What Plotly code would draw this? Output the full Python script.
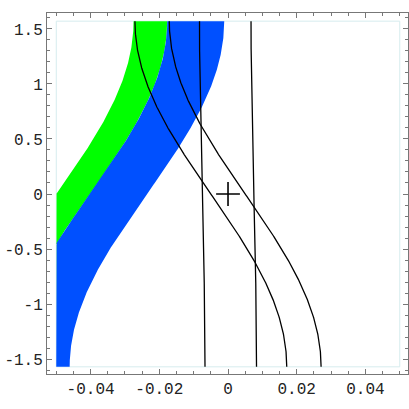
import numpy as np
import plotly.graph_objects as go

# plot region of the original function plot
x_lim = [-0.05, 0.05]
y_lim = [-np.pi / 2, np.pi / 2]

# shaded bands: x = c + amp*sin(y), for c between the two offsets
green_offsets = [-0.05, -0.0402]
blue_offsets = [-0.0402, -0.0236]
band_amp = 0.0225

# black curves: x = c - amp*sin(y)
s_curve_offsets = [-0.005, 0.005]
s_curve_amp = 0.0221
near_vertical_offsets = [-0.0075, 0.0075]
near_vertical_amp = 0.0008

marker_point = [0.0, 0.0]

x_ticks = [-0.04, -0.02, 0, 0.02, 0.04]
x_ticktext = ['-0.04', '-0.02', '0', '0.02', '0.04']
y_ticks = [-1.5, -1, -0.5, 0, 0.5, 1, 1.5]
y_ticktext = ['-1.5', '-1', '-0.5', '0', '0.5', '1', '1.5']

y = np.linspace(y_lim[0], y_lim[1], 400)


def band(offsets, color):
    left = np.clip(offsets[0] + band_amp * np.sin(y), x_lim[0], x_lim[1])
    right = np.clip(offsets[1] + band_amp * np.sin(y), x_lim[0], x_lim[1])
    return go.Scatter(
        x=np.concatenate([left, right[::-1]]),
        y=np.concatenate([y, y[::-1]]),
        fill='toself', fillcolor=color, mode='lines',
        line=dict(width=0, color=color), showlegend=False, hoverinfo='skip')


data = [band(green_offsets, '#00ff00'), band(blue_offsets, '#0050ff')]

for c in s_curve_offsets:
    data.append(go.Scatter(x=c - s_curve_amp * np.sin(y), y=y, mode='lines',
                           line=dict(color='black', width=1.3), showlegend=False))
for c in near_vertical_offsets:
    data.append(go.Scatter(x=c - near_vertical_amp * np.sin(y), y=y, mode='lines',
                           line=dict(color='black', width=1.3), showlegend=False))

data.append(go.Scatter(x=[marker_point[0]], y=[marker_point[1]], mode='markers',
                       marker=dict(symbol='cross-thin', size=17,
                                   line=dict(color='black', width=1.6)),
                       showlegend=False))

fig = go.Figure(data=data)

axis_style = dict(
    showgrid=False, zeroline=False, showline=True, linecolor='#777', linewidth=1,
    mirror='allticks', ticks='inside', ticklen=5, tickcolor='#777', automargin=False,
    tickfont=dict(family='Liberation Mono', size=16, color='#222'),
)

fig.update_layout(
    width=409, height=409,
    margin=dict(l=47, r=1, t=13, b=35),
    plot_bgcolor='white', paper_bgcolor='white',
    xaxis=dict(range=[-0.0527, 0.0524], tickvals=x_ticks, ticktext=x_ticktext,
               minor=dict(ticks='inside', dtick=0.005, ticklen=3, tickcolor='#777'),
               **axis_style),
    yaxis=dict(range=[-1.636, 1.645], tickvals=y_ticks, ticktext=y_ticktext,
               minor=dict(ticks='inside', dtick=0.1, ticklen=3, tickcolor='#777'),
               **axis_style),
    shapes=[dict(type='rect', xref='x', yref='y', x0=x_lim[0], x1=x_lim[1],
                 y0=y_lim[0], y1=y_lim[1], line=dict(color='#d6ecee', width=1),
                 layer='below')],
)

# drop the browser's default page margin so the 409px figure fills the window
fig.write_html("out.html", config={'displayModeBar': False},
               post_script="document.body.style.margin='0';"
                           "document.body.style.overflow='hidden';")
